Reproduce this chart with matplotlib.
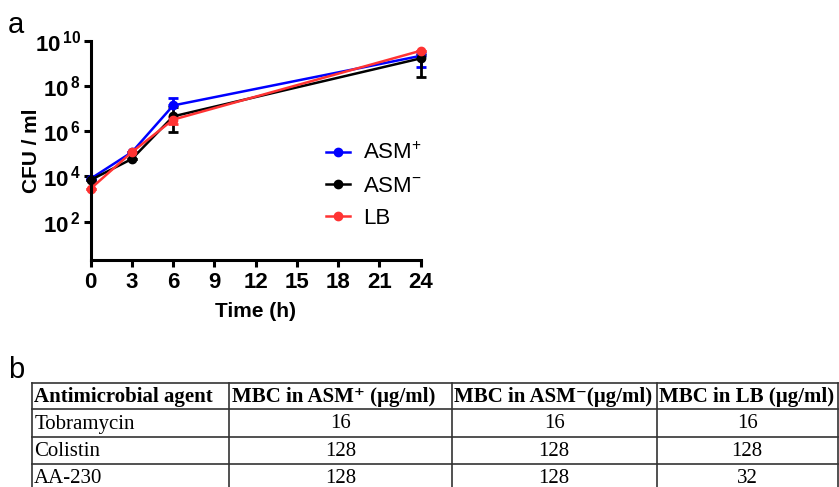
import matplotlib
matplotlib.use("Agg")
import matplotlib.pyplot as plt
import numpy as np
from matplotlib.ticker import FixedLocator, FuncFormatter, NullLocator
from matplotlib.lines import Line2D

plt.rcParams['font.family'] = ['Liberation Sans', 'DejaVu Sans']
plt.rcParams['mathtext.fontset'] = 'custom'
plt.rcParams['mathtext.rm'] = 'Liberation Sans'
plt.rcParams['mathtext.bf'] = 'Liberation Sans:bold'
plt.rcParams['mathtext.default'] = 'regular'

# ---- data (panel a) ----
time_h = [0, 3, 6, 24]
asm_plus = [8.0e3, 1.2e5, 1.4e7, 2.2e9]
asm_plus_lo = [8.0e3, 1.2e5, 1.4e7, 7.0e8]
asm_plus_hi = [8.0e3, 1.2e5, 3.0e7, 3.0e9]
asm_minus = [7.0e3, 6.0e4, 4.6e6, 1.7e9]
asm_minus_lo = [7.0e3, 6.0e4, 9.0e5, 2.6e8]
asm_minus_hi = [7.0e3, 6.0e4, 1.2e7, 2.5e9]
lb = [2.9e3, 1.2e5, 3.3e6, 3.7e9]
lb_lo = [2.9e3, 1.2e5, 2.2e6, 3.7e9]
lb_hi = [2.9e3, 1.2e5, 4.5e6, 3.7e9]
series_names = ['ASM$^{+}$', 'ASM$^{-}$', 'LB']
x_ticks = [0, 3, 6, 9, 12, 15, 18, 21, 24]
y_ticks = [1e2, 1e4, 1e6, 1e8, 1e10]

# ---- data (panel b) ----
table_header = ['Antimicrobial agent', 'MBC in ASM\u207a (\u00b5g/ml)',
                'MBC in ASM\u207b(\u00b5g/ml)', 'MBC in LB (\u00b5g/ml)']
agents = ['Tobramycin', 'Colistin', 'AA-230']
mbc_asm_plus = [16, 128, 128]
mbc_asm_minus = [16, 128, 128]
mbc_lb = [16, 128, 32]

W, H = 839, 487
fig = plt.figure(figsize=(W / 100, H / 100), dpi=100)

ax = fig.add_axes([90.7 / W, 1 - 260 / H, 330 / W, 219 / H])
colors = ['#0000ff', '#000000', '#ff3333']
data = [(asm_plus, asm_plus_lo, asm_plus_hi),
        (asm_minus, asm_minus_lo, asm_minus_hi),
        (lb, lb_lo, lb_hi)]
handles = []
for (y, lo, hi), c, name in zip(data, colors, series_names):
    y = np.array(y); lo = np.array(lo); hi = np.array(hi)
    ax.errorbar(time_h, y, yerr=[y - lo, hi - y], color=c, marker='o',
                markersize=6, lw=1.8, elinewidth=2, capsize=3.5, capthick=2,
                clip_on=False)
    handles.append(Line2D([], [], color=c, marker='o', markersize=6, lw=1.8,
                          label=name))

ax.set_yscale('log')
ax.set_xlim(0, 24)
ax.set_ylim(2, 1e10)
ax.xaxis.set_major_locator(FixedLocator(x_ticks))
ax.yaxis.set_major_locator(FixedLocator(y_ticks))
ax.yaxis.set_minor_locator(NullLocator())
ax.yaxis.set_major_formatter(FuncFormatter(
    lambda v, p: r'$\mathbf{10^{\,%d}}$' % int(round(np.log10(v)))))
for s in ['top', 'right']:
    ax.spines[s].set_visible(False)
for s in ['left', 'bottom']:
    ax.spines[s].set_linewidth(2.2)
ax.tick_params(axis='both', width=2.2, length=5, labelsize=16)
ax.tick_params(axis='x', pad=4)
ax.tick_params(axis='y', pad=2)
for lab in ax.get_xticklabels():
    lab.set_fontweight('bold')
ax.set_xlabel('Time (h)', fontsize=15, fontweight='bold')
ax.xaxis.set_label_coords(0.5, -0.19)
ax.set_ylabel('CFU / ml', fontsize=15, fontweight='bold')
ax.yaxis.set_label_coords(-0.15, 0.5)

leg = ax.legend(handles=handles, loc='upper left', bbox_to_anchor=(0.685, 0.575),
                frameon=False, fontsize=16, handlelength=1.1, handletextpad=0.6,
                labelspacing=0.5, borderaxespad=0)

fig.text(8 / W, 1 - 33 / H, 'a', fontsize=21)
fig.text(8 / W, 1 - 378 / H, 'b', fontsize=21)

# ---- table ----
tax = fig.add_axes([0, 0, 1, 1])
tax.set_xlim(0, W)
tax.set_ylim(H, 0)
tax.axis('off')
col_edges = [31.7, 229.3, 451.7, 656.7, 837.7]
row_edges = [382.7, 409.3, 436.7, 464.3, 491.5]
lc = '#333333'
for x in col_edges:
    tax.plot([x, x], [row_edges[0], row_edges[-1]], color=lc, lw=1.2, clip_on=False)
for y in row_edges:
    tax.plot([col_edges[0], col_edges[-1]], [y, y], color=lc, lw=1.2, clip_on=False)

serif = ['Liberation Serif', 'DejaVu Serif']
rows = [table_header] + [[a, str(p), str(m), str(l)] for a, p, m, l in
                         zip(agents, mbc_asm_plus, mbc_asm_minus, mbc_lb)]
for r, row in enumerate(rows):
    yc = (row_edges[r] + row_edges[r + 1]) / 2 + 1
    for c, txt in enumerate(row):
        if r == 0:
            tax.text(col_edges[c] + 2.5, yc, txt, ha='left', va='center',
                     fontsize=15, fontweight='bold', family=serif)
        elif c == 0:
            tax.text(col_edges[c] + 2.5, yc, txt, ha='left', va='center',
                     fontsize=15, family=serif)
        else:
            tax.text((col_edges[c] + col_edges[c + 1]) / 2, yc, txt,
                     ha='center', va='center', fontsize=15, family=serif)

fig.savefig('out.png', dpi=100)
